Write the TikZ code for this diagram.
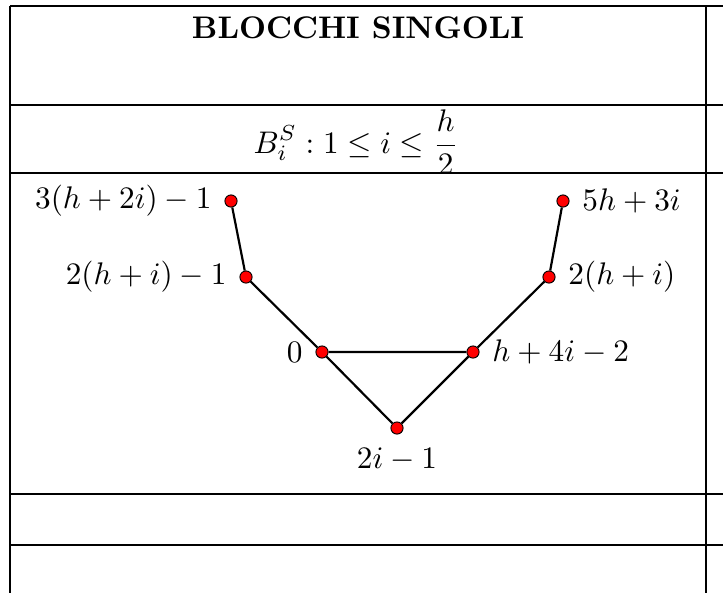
\documentclass[tikz,border=0pt]{standalone}
\begin{document}
\begin{tikzpicture}[x=0.32pt,y=-0.32pt,
  dot/.style={circle,fill=red,draw=black,line width=0.3pt,inner sep=0pt,minimum size=3.9pt},
  edge/.style={line width=0.7pt,black},
  rule/.style={line width=0.35pt,black},
  label distance=0.6pt]
\useasboundingbox (0,0) rectangle (723,593);
% texts of the table
\node[anchor=base] (title) at (358,38) {\textbf{BLOCCHI SINGOLI}};
\node[anchor=base] (cond) at (356,153) {$\displaystyle B_i^S : 1 \leq i \leq \frac{h}{2}$};
% table rules
\draw[rule] (10,6) -- (723,6);
\draw[rule] (10,105) -- (723,105);
\draw[rule] (10,173) -- (723,173);
\draw[rule] (10,494) -- (723,494);
\draw[rule] (10,545) -- (723,545);
\draw[rule] (10,6) -- (10,593);
\draw[rule] (706,6) -- (706,593);
% graph
\node[dot,label={left:$3(h+2i)-1$}] (a) at (231,201) {};
\node[dot,label={left:$2(h+i)-1$}] (b) at (246,277) {};
\node[dot,label={left:$0$}] (c) at (322,352) {};
\node[dot,label={right:$h+4i-2$}] (d) at (473,352) {};
\node[dot,label={right:$2(h+i)$}] (e) at (549,277) {};
\node[dot,label={right:$5h+3i$}] (f) at (563,201) {};
\node[dot,label={below:$2i-1$}] (g) at (397,428) {};
\draw[edge] (a) -- (b) -- (c) -- (d) -- (e) -- (f);
\draw[edge] (c) -- (g) -- (d);
\end{tikzpicture}
\end{document}
